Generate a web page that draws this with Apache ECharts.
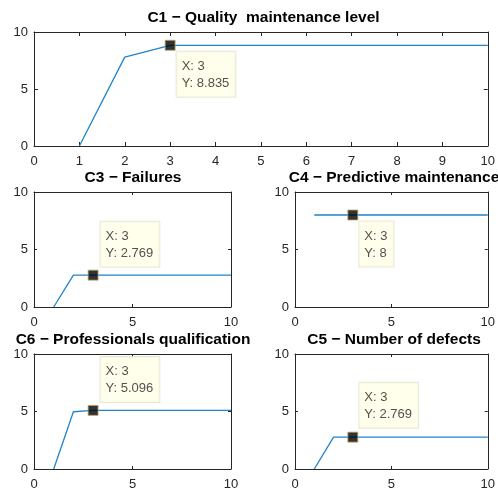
<!DOCTYPE html>
<html>
<head>
<meta charset="utf-8">
<script src="https://cdn.jsdelivr.net/npm/echarts@6/dist/echarts.min.js"></script>
<style>html,body{margin:0;padding:0;background:#fff;overflow:hidden;}#c{width:498px;height:491px;}</style>
</head>
<body>
<div id="c"></div>
<script>
var xs = [1, 2, 3, 4, 5, 6, 7, 8, 9, 10];
var c1 = [0, 7.8, 8.835, 8.835, 8.835, 8.835, 8.835, 8.835, 8.835, 8.835];
var c3 = [0, 2.769, 2.769, 2.769, 2.769, 2.769, 2.769, 2.769, 2.769, 2.769];
var c4 = [8, 8, 8, 8, 8, 8, 8, 8, 8, 8];
var c6 = [0, 4.98, 5.096, 5.096, 5.096, 5.096, 5.096, 5.096, 5.096, 5.096];
var c5 = [0, 2.769, 2.769, 2.769, 2.769, 2.769, 2.769, 2.769, 2.769, 2.769];
var titles = ['C1 \u2212 Quality  maintenance level', 'C3 \u2212 Failures', 'C4 \u2212 Predictive maintenance', 'C6 \u2212 Professionals qualification', 'C5 \u2212 Number of defects'];
var tipX = 3;
var tipY = [8.835, 2.769, 8, 5.096, 2.769];

var series = [c1, c3, c4, c6, c5];
var grids = [
  {left: 34, top: 32, width: 459, height: 114, xInt: 1, tipPos: [12, 12], tMid: 263.5, tTop: 9},
  {left: 34, top: 192, width: 197, height: 115, xInt: 5, tipPos: [13, -48], tMid: 133, tTop: 169},
  {left: 295, top: 192, width: 198, height: 115, xInt: 5, tipPos: [12, 12], tMid: 394, tTop: 169},
  {left: 34, top: 354, width: 197, height: 115, xInt: 5, tipPos: [13, -48], tMid: 133, tTop: 331},
  {left: 295, top: 354, width: 198, height: 115, xInt: 5, tipPos: [12, -49], tMid: 394, tTop: 331}
];
var axisCol = '#262626';
var font = 'Liberation Sans, Arial, Helvetica, sans-serif';
var opt = {animation: false, title: [], grid: [], xAxis: [], yAxis: [], series: []};
grids.forEach(function (g, i) {
  opt.grid.push({left: g.left, top: g.top, width: g.width, height: g.height, containLabel: false});
  opt.title.push({text: titles[i], left: g.tMid, top: g.tTop, textAlign: 'center', padding: 0,
    textStyle: {fontFamily: font, fontSize: 15.5, lineHeight: 18, fontWeight: 'bold', color: '#000'}});
  var tickLen = i === 0 ? 4 : 3;
  opt.xAxis.push({type: 'value', gridIndex: i, min: 0, max: 10, interval: g.xInt, position: 'bottom',
    axisLine: {show: true, onZero: false, lineStyle: {color: axisCol}},
    axisTick: {show: true, inside: true, length: tickLen, lineStyle: {color: axisCol}},
    axisLabel: {color: axisCol, fontSize: 13, fontFamily: font, margin: 9, showMaxLabel: true, showMinLabel: true},
    splitLine: {show: false}});
  opt.xAxis.push({type: 'value', gridIndex: i, min: 0, max: 10, interval: g.xInt, position: 'top',
    axisLine: {show: true, onZero: false, lineStyle: {color: axisCol}},
    axisTick: {show: true, inside: true, length: tickLen, lineStyle: {color: axisCol}},
    axisLabel: {show: false}, splitLine: {show: false}});
  opt.yAxis.push({type: 'value', gridIndex: i, min: 0, max: 10, interval: 5, position: 'left',
    axisLine: {show: true, onZero: false, lineStyle: {color: axisCol}},
    axisTick: {show: true, inside: true, length: tickLen, lineStyle: {color: axisCol}},
    axisLabel: {color: axisCol, fontSize: 13, fontFamily: font, margin: 6},
    splitLine: {show: false}});
  opt.yAxis.push({type: 'value', gridIndex: i, min: 0, max: 10, interval: 5, position: 'right',
    axisLine: {show: true, onZero: false, lineStyle: {color: axisCol}},
    axisTick: {show: true, inside: true, length: tickLen, lineStyle: {color: axisCol}},
    axisLabel: {show: false}, splitLine: {show: false}});
  opt.series.push({type: 'line', xAxisIndex: 2 * i, yAxisIndex: 2 * i,
    data: xs.map(function (x, k) { return [x, series[i][k]]; }),
    showSymbol: false, symbol: 'none', lineStyle: {color: '#1f84cc', width: 1.3}, z: 2});
  opt.series.push({type: 'scatter', xAxisIndex: 2 * i, yAxisIndex: 2 * i,
    data: [[tipX, tipY[i]]], symbol: 'rect', symbolSize: 10,
    itemStyle: {color: '#000', borderColor: '#b9a86a', borderWidth: 1},
    label: {show: true, position: g.tipPos, align: 'left', verticalAlign: 'top',
      formatter: 'X: ' + tipX + '\nY: ' + tipY[i],
      fontFamily: font, fontSize: 13, lineHeight: 17, color: '#262626',
      backgroundColor: '#ffffe6', borderColor: '#e2e2cf', borderWidth: 1, padding: [6, 6, 5, 5]},
    z: 5});
});
var chart = echarts.init(document.getElementById('c'), null, {renderer: 'canvas'});
chart.setOption(opt);
</script>
</body>
</html>
